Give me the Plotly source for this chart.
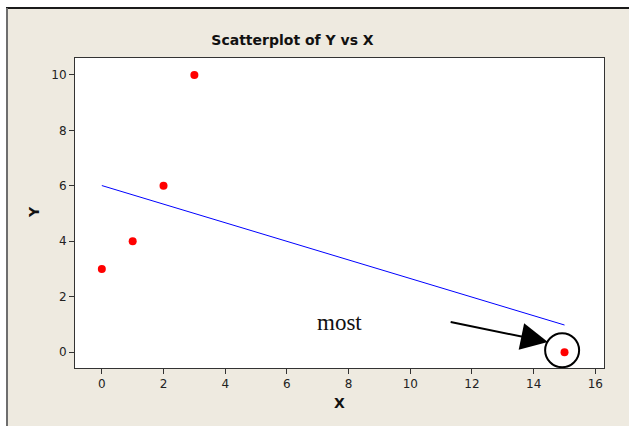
import plotly.graph_objects as go

# Data
x_vals = [0, 1, 2, 3, 15]
y_vals = [3, 4, 6, 10, 0]
fit_x = [0, 15]
fit_y = [6.01, 0.98]
x_ticks = [0, 2, 4, 6, 8, 10, 12, 14, 16]
y_ticks = [0, 2, 4, 6, 8, 10]

BEIGE = "#EEEAE0"
W, H = 629, 426
L, R, T, B = 75, 25, 58, 58
pw, ph = W - L - R, H - T - B

def px_x(p):
    return (p - L) / pw

def px_y(p):
    return (H - B - p) / ph

fig = go.Figure()
fig.add_trace(go.Scatter(x=fit_x, y=fit_y, mode="lines",
                         line=dict(color="#0000FF", width=1), showlegend=False))
fig.add_trace(go.Scatter(x=x_vals, y=y_vals, mode="markers",
                         marker=dict(color="#FF0000", size=8), showlegend=False))

axis_common = dict(showgrid=False, zeroline=False, showline=True, mirror=True,
                   linecolor="#333333", linewidth=1, ticks="outside", ticklen=5,
                   tickcolor="#333333", tickfont=dict(family="DejaVu Sans", size=12, color="#222222"))

fig.update_layout(
    width=W, height=H,
    margin=dict(l=L, r=R, t=T, b=B),
    paper_bgcolor=BEIGE, plot_bgcolor="white",
    xaxis=dict(range=[-0.87, 16.28], tickvals=x_ticks, **axis_common),
    yaxis=dict(range=[-0.57, 10.61], tickvals=y_ticks, **axis_common),
    title=dict(text="<b>Scatterplot of Y vs X</b>", x=px_x(321), xanchor="center",
               y=1 - 40 / H, yanchor="middle", yref="container",
               font=dict(family="DejaVu Sans", size=14, color="#111111")),
    showlegend=False,
)

# Window frame: white strips above / left, dark border lines
fig.add_shape(type="rect", xref="paper", yref="paper", x0=px_x(-5), x1=px_x(640),
              y0=px_y(8), y1=px_y(-5), fillcolor="white", line=dict(width=0), layer="above")
fig.add_shape(type="rect", xref="paper", yref="paper", x0=px_x(-5), x1=px_x(6),
              y0=px_y(440), y1=px_y(-5), fillcolor="white", line=dict(width=0), layer="above")
fig.add_shape(type="line", xref="paper", yref="paper", x0=px_x(6), x1=px_x(640),
              y0=px_y(8), y1=px_y(8), line=dict(color="#1a1a1a", width=2))
fig.add_shape(type="line", xref="paper", yref="paper", x0=px_x(7), x1=px_x(7),
              y0=px_y(8), y1=px_y(440), line=dict(color="#6e6e6e", width=2))

# Axis titles
fig.add_annotation(text="<b>X</b>", xref="paper", yref="paper", x=px_x(339), y=px_y(403),
                   xanchor="center", yanchor="middle", showarrow=False,
                   font=dict(family="DejaVu Sans", size=14, color="#111111"))
fig.add_annotation(text="<b>Y</b>", xref="paper", yref="paper", x=px_x(34), y=px_y(212),
                   xanchor="center", yanchor="middle", showarrow=False, textangle=-90,
                   font=dict(family="DejaVu Sans", size=14, color="#111111"))

# "most" label, arrow and circle
fig.add_annotation(text="most", x=7.69, y=1.06, xref="x", yref="y", showarrow=False,
                   xanchor="center", yanchor="middle",
                   font=dict(family="Liberation Serif", size=23, color="#111111"))
fig.add_annotation(text="", x=14.46, y=0.37, ax=11.26, ay=1.10, xref="x", yref="y",
                   axref="x", ayref="y", showarrow=True, arrowhead=2, arrowwidth=2,
                   arrowsize=2.7, arrowcolor="black", standoff=0)
fig.add_shape(type="circle", xref="x", yref="y", xsizemode="pixel", ysizemode="pixel",
              xanchor=15, yanchor=0, x0=-19.4, x1=14.6, y0=-15, y1=19,
              line=dict(color="black", width=2))

fig.write_html("out.html", config={"displayModeBar": False},
               post_script="document.body.style.margin='0';document.body.style.overflow='hidden';")
